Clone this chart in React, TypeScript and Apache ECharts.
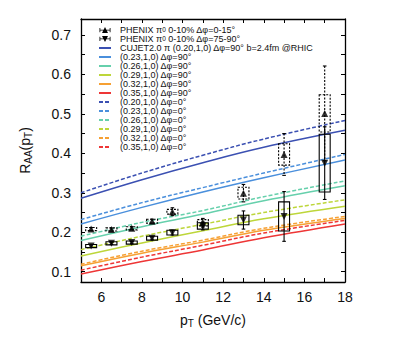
import React, { useEffect, useRef } from 'react';
import * as echarts from 'echarts';

// ---- data ----
const curveX = [5, 8, 11, 14, 18];
// CUJET2.0 curves, Δφ = 90° (solid)
const c020_90 = [0.286, 0.333, 0.376, 0.415, 0.458];
const c023_90 = [0.221, 0.263, 0.302, 0.338, 0.383];
const c026_90 = [0.179, 0.214, 0.246, 0.280, 0.318];
const c029_90 = [0.140, 0.173, 0.204, 0.234, 0.266];
const c032_90 = [0.115, 0.147, 0.175, 0.205, 0.235];
const c035_90 = [0.094, 0.126, 0.155, 0.186, 0.221];
// Δφ = 0° (dashed)
const c020_0 = [0.300, 0.350, 0.395, 0.436, 0.483];
const c023_0 = [0.232, 0.275, 0.313, 0.350, 0.397];
const c026_0 = [0.190, 0.225, 0.255, 0.290, 0.330];
const c029_0 = [0.156, 0.190, 0.220, 0.250, 0.282];
const c032_0 = [0.119, 0.152, 0.180, 0.210, 0.240];
const c035_0 = [0.104, 0.137, 0.167, 0.198, 0.230];

// PHENIX pi0 0-10%
const phenixX = [5.5, 6.5, 7.5, 8.5, 9.5, 11, 13, 15, 17];
const upY = [0.208, 0.207, 0.210, 0.228, 0.252, 0.224, 0.299, 0.397, 0.501];
const upStat = [0.004, 0.004, 0.004, 0.005, 0.010, 0.011, 0.022, 0.053, 0.120];
const upSys = [0.004, 0.004, 0.004, 0.005, 0.006, 0.008, 0.015, 0.027, 0.047];
const downY = [0.165, 0.172, 0.174, 0.185, 0.199, 0.216, 0.231, 0.240, 0.375];
const downStat = [0.003, 0.003, 0.003, 0.004, 0.006, 0.010, 0.023, 0.063, 0.092];
const downSys = [0.004, 0.004, 0.004, 0.005, 0.006, 0.008, 0.012, 0.037, 0.073];

const xLabels = [6, 8, 10, 12, 14, 16, 18];
const yLabels = [0.1, 0.2, 0.3, 0.4, 0.5, 0.6, 0.7];
const yTicks = [0.1, 0.15, 0.2, 0.25, 0.3, 0.35, 0.4, 0.45, 0.5, 0.55, 0.6, 0.65, 0.7];

const names = {
  up: 'PHENIX π0 0-10% Δφ=0-15°',
  down: 'PHENIX π0 0-10% Δφ=75-90°',
  s020: 'CUJET2.0 π (0.20,1,0) Δφ=90° b=2.4fm @RHIC',
  s023: '(0.23,1,0) Δφ=90°',
  s026: '(0.26,1,0) Δφ=90°',
  s029: '(0.29,1,0) Δφ=90°',
  s032: '(0.32,1,0) Δφ=90°',
  s035: '(0.35,1,0) Δφ=90°',
  d020: '(0.20,1,0) Δφ=0°',
  d023: '(0.23,1,0) Δφ=0°',
  d026: '(0.26,1,0) Δφ=0°',
  d029: '(0.29,1,0) Δφ=0°',
  d032: '(0.32,1,0) Δφ=0°',
  d035: '(0.35,1,0) Δφ=0°',
};

const COL = {
  c020: '#3b50b2',
  c023: '#4a8fdc',
  c026: '#66d0ac',
  c029: '#bdd63a',
  c032: '#f6a033',
  c035: '#ee3636',
};

const FONT = '"Liberation Sans", Arial, Helvetica, sans-serif';

function lineSeries(name: string, ys: number[], color: string, dashed: boolean) {
  return {
    type: 'line',
    name,
    data: curveX.map((x, i) => [x, ys[i]]),
    smooth: 0.4,
    showSymbol: false,
    symbol: 'none',
    lineStyle: { color, width: 1.5, type: dashed ? [4, 2] : 'solid' },
    itemStyle: { color },
    z: 2,
  };
}

function boxSeries(name: string, ys: number[], stat: number[], sys: number[], dashed: boolean) {
  const hw = 0.27;
  return {
    type: 'custom',
    name,
    data: phenixX.map((x, i) => [x, ys[i], stat[i], sys[i]]),
    encode: { x: 0, y: 1 },
    z: 3,
    clip: true,
    renderItem: (params: any, api: any) => {
      const x = api.value(0);
      const y = api.value(1);
      const st = api.value(2);
      const sy = api.value(3);
      const pL = api.coord([x - hw, y + sy]);
      const pR = api.coord([x + hw, y - sy]);
      const pT = api.coord([x, y + st]);
      const pB = api.coord([x, y - st]);
      const dash = dashed ? [2, 1.5] : null;
      const style = { stroke: '#000', lineWidth: 1.1, fill: 'none', lineDash: dash };
      const capW = 1.8;
      return {
        type: 'group',
        children: [
          {
            type: 'rect',
            shape: { x: pL[0], y: pL[1], width: pR[0] - pL[0], height: pR[1] - pL[1] },
            style,
          },
          { type: 'line', shape: { x1: pT[0], y1: pT[1], x2: pB[0], y2: pB[1] }, style },
          { type: 'line', shape: { x1: pT[0] - capW, y1: pT[1], x2: pT[0] + capW, y2: pT[1] }, style: { stroke: '#000', lineWidth: 1.1 } },
          { type: 'line', shape: { x1: pB[0] - capW, y1: pB[1], x2: pB[0] + capW, y2: pB[1] }, style: { stroke: '#000', lineWidth: 1.1 } },
        ],
      };
    },
  };
}

const upIcon = 'path://M0,3.2 H11 V4 H0 Z M0,1.5 H0.8 V5.7 H0 Z M10.2,1.5 H11 V5.7 H10.2 Z M5.5,0.5 L8.5,6.5 L2.5,6.5 Z';
const downIcon = 'path://M0,3 H11 V3.8 H0 Z M0,1.3 H0.8 V5.5 H0 Z M10.2,1.3 H11 V5.5 H10.2 Z M2.5,0.5 L8.5,0.5 L5.5,6.5 Z';

export default function App() {
  const ref = useRef<HTMLDivElement>(null);
  useEffect(() => {
    document.body.style.margin = '0';
    const chart = echarts.init(ref.current!, null, { renderer: 'svg' });
    const axisLine = { show: true, lineStyle: { color: '#000', width: 1.3 } };
    const option: any = {
      animation: false,
      backgroundColor: '#fff',
      grid: { left: 81, right: 50, top: 19, bottom: 63, containLabel: false },
      legend: {
        orient: 'vertical',
        left: 98,
        top: 25.5,
        padding: 0,
        itemGap: 0,
        itemWidth: 12,
        itemHeight: 6,
        selectedMode: false,
        itemStyle: { opacity: 0 },
        textStyle: {
          fontFamily: FONT,
          fontSize: 9,
          lineHeight: 8.85,
          color: '#111',
          padding: [0, 0, 0, 4],
          rich: {
            sup: { fontFamily: FONT, fontSize: 6.5, lineHeight: 8.85, verticalAlign: 'top', color: '#111' },
          },
        },
        formatter: (n: string) => n.replace('π0', 'π{sup|0}'),
        data: [
          { name: names.up, icon: upIcon, itemStyle: { color: '#000', opacity: 1 } },
          { name: names.down, icon: downIcon, itemStyle: { color: '#000', opacity: 1 } },
          names.s020, names.s023, names.s026, names.s029, names.s032, names.s035,
          names.d020, names.d023, names.d026, names.d029, names.d032, names.d035,
        ],
      },
      xAxis: [
        {
          type: 'value',
          min: 5,
          max: 18,
          interval: 1,
          position: 'bottom',
          name: 'p{sub|T} (GeV/c)',
          nameLocation: 'middle',
          nameGap: 30,
          nameTextStyle: {
            fontFamily: FONT, fontSize: 14, color: '#111',
            rich: { sub: { fontFamily: FONT, fontSize: 10, verticalAlign: 'bottom', padding: [6, 0, 0, 0], color: '#111' } },
          },
          axisLine,
          axisTick: { show: true, inside: true, length: 4, lineStyle: { color: '#000', width: 1 } },
          axisLabel: {
            fontFamily: FONT, fontSize: 14, color: '#111', margin: 8,
            formatter: (v: number) => (xLabels.includes(v) ? String(v) : ''),
          },
          splitLine: { show: false },
        },
        {
          type: 'value',
          min: 5,
          max: 18,
          interval: 1,
          position: 'top',
          axisLine,
          axisTick: { show: true, inside: true, length: 4, lineStyle: { color: '#000', width: 1 } },
          axisLabel: { show: false },
          splitLine: { show: false },
        },
      ],
      yAxis: [
        {
          type: 'value',
          min: 0.074,
          max: 0.74,
          position: 'left',
          name: 'R{sub|AA}(p{sub|T})',
          nameLocation: 'middle',
          nameRotate: 90,
          nameGap: 48,
          nameTextStyle: {
            fontFamily: FONT, fontSize: 14, color: '#111',
            rich: { sub: { fontFamily: FONT, fontSize: 10, verticalAlign: 'bottom', padding: [6, 0, 0, 0], color: '#111' } },
          },
          axisLine,
          axisTick: { show: true, inside: true, length: 4, customValues: yTicks, lineStyle: { color: '#000', width: 1 } },
          axisLabel: {
            fontFamily: FONT, fontSize: 14, color: '#111', margin: 10,
            customValues: yLabels,
            formatter: (v: number) => v.toFixed(1),
          },
          splitLine: { show: false },
        },
        {
          type: 'value',
          min: 0.074,
          max: 0.74,
          position: 'right',
          axisLine,
          axisTick: { show: true, inside: true, length: 4, customValues: yTicks, lineStyle: { color: '#000', width: 1 } },
          axisLabel: { show: false },
          splitLine: { show: false },
        },
      ],
      series: [
        lineSeries(names.s020, c020_90, COL.c020, false),
        lineSeries(names.s023, c023_90, COL.c023, false),
        lineSeries(names.s026, c026_90, COL.c026, false),
        lineSeries(names.s029, c029_90, COL.c029, false),
        lineSeries(names.s032, c032_90, COL.c032, false),
        lineSeries(names.s035, c035_90, COL.c035, false),
        lineSeries(names.d020, c020_0, COL.c020, true),
        lineSeries(names.d023, c023_0, COL.c023, true),
        lineSeries(names.d026, c026_0, COL.c026, true),
        lineSeries(names.d029, c029_0, COL.c029, true),
        lineSeries(names.d032, c032_0, COL.c032, true),
        lineSeries(names.d035, c035_0, COL.c035, true),
        boxSeries('upBoxes', upY, upStat, upSys, true),
        boxSeries('downBoxes', downY, downStat, downSys, false),
        {
          type: 'scatter',
          name: names.up,
          data: phenixX.map((x, i) => [x, upY[i]]),
          symbol: 'triangle',
          symbolSize: 7,
          itemStyle: { color: '#000' },
          z: 4,
        },
        {
          type: 'scatter',
          name: names.down,
          data: phenixX.map((x, i) => [x, downY[i]]),
          symbol: 'triangle',
          symbolRotate: 180,
          symbolSize: 7,
          itemStyle: { color: '#000' },
          z: 4,
        },
      ],
    };
    chart.setOption(option);
    return () => chart.dispose();
  }, []);
  return <div ref={ref} style={{ width: 395, height: 345 }} />;
}
